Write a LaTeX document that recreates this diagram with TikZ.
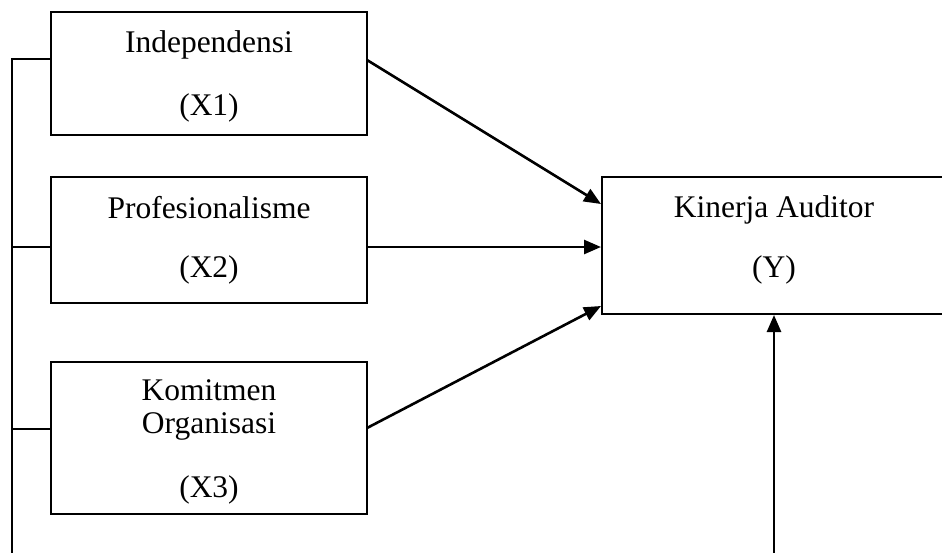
\documentclass[tikz,border=0pt]{standalone}
\usepackage{fontspec}
\setmainfont{Liberation Serif}
\usetikzlibrary{arrows.meta}
\begin{document}
\begin{tikzpicture}[x=1pt,y=-1pt,
  box/.style={draw,line width=2.6pt,inner sep=0pt},
  lbl/.style={anchor=base,inner sep=0pt,font=\fontsize{31.5}{36}\selectfont},
  conn/.style={line width=2.4pt},
  arr/.style={line width=2.6pt,-{Triangle[length=17pt,width=14pt]}}]
\clip (0,0) rectangle (942,552);
\fill[white] (0,0) rectangle (942,552);
% boxes
\node[box,minimum width=316pt,minimum height=123pt] (x1) at (209,73.5) {};
\node[box,minimum width=316pt,minimum height=126pt] (x2) at (209,240) {};
\node[box,minimum width=316pt,minimum height=152pt] (x3) at (209,438) {};
\node[box,minimum width=346pt,minimum height=137pt] (y) at (775,245.5) {};
% labels
\node[lbl] (t1a) at (209,52) {Independensi};
\node[lbl] (t1b) at (209,115) {(X1)};
\node[lbl] (t2a) at (209,218) {Profesionalisme};
\node[lbl] (t2b) at (209,277) {(X2)};
\node[lbl] (t3a) at (209,400) {Komitmen};
\node[lbl] (t3b) at (209,433) {Organisasi};
\node[lbl] (t3c) at (209,497) {(X3)};
\node[lbl] (tya) at (774,217) {Kinerja Auditor};
\node[lbl] (tyb) at (774,277) {(Y)};
% connection points
\coordinate (l1) at (51,59);
\coordinate (l2) at (51,247);
\coordinate (l3) at (51,429);
\coordinate (r1) at (367,60);
\coordinate (r2) at (367,247);
\coordinate (r3) at (367,428);
\coordinate (e1) at (601,204);
\coordinate (e2) at (601,247);
\coordinate (e3) at (601,306);
\coordinate (top) at (12,59);
\coordinate (bot) at (12,560);
\coordinate (ybot) at (774,560);
\coordinate (yin) at (774,315);
% left bracket
\draw[conn] (l1) -- (top) -- (bot);
\draw[conn] (l2) -- (l2 -| top);
\draw[conn] (l3) -- (l3 -| top);
% arrows
\draw[arr] (r1) -- (e1);
\draw[arr] (r2) -- (e2);
\draw[arr] (r3) -- (e3);
\draw[arr] (ybot) -- (yin);
\end{tikzpicture}
\end{document}
